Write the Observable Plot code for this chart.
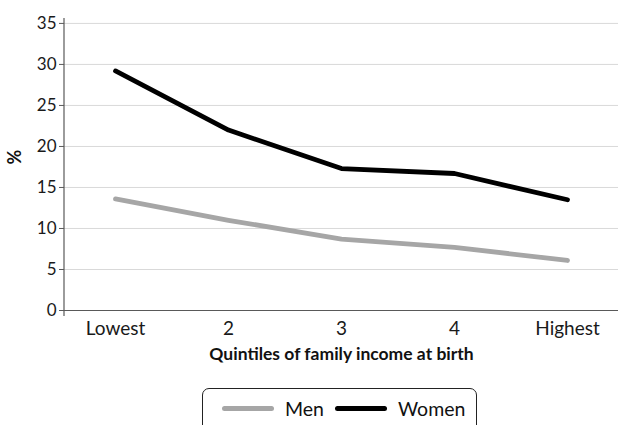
<!DOCTYPE html>
<html><head><meta charset="utf-8">
<script src="https://cdn.jsdelivr.net/npm/d3@7"></script>
<script src="https://cdn.jsdelivr.net/npm/@observablehq/plot@0.6"></script>
<style>
body{margin:0;background:#fff;font-family:Lato,"Open Sans",sans-serif;overflow:hidden;}
#wrap{position:relative;width:618px;height:425px;overflow:hidden;}
#legend{position:absolute;left:202px;top:388px;width:275px;height:60px;border:1.5px solid #222;border-radius:7px;box-sizing:border-box;display:flex;align-items:flex-start;padding-top:7px;padding-left:19px;font-size:19.5px;color:#111;}
.item{display:flex;align-items:center;height:24px;margin-right:11px;}
.sw{display:inline-block;width:52px;height:5px;border-radius:3px;margin-right:11px;}
</style></head><body><div id="wrap"><div id="chart"></div><div id="legend"></div></div>
<script>
const categories = ["Lowest", "2", "3", "4", "Highest"];
const seriesNames = ["Men", "Women"];
const seriesColors = ["#a6a6a6", "#000000"];
const men = [13.6, 11.0, 8.7, 7.7, 6.1];
const women = [29.2, 22.0, 17.3, 16.7, 13.5];
const yTicks = [0, 5, 10, 15, 20, 25, 30, 35];
const xTitle = "Quintiles of family income at birth";
const yTitle = "%";

const seriesValues = [men, women];
const data = seriesNames.flatMap((s, j) => categories.map((c, i) => ({series: s, category: c, value: seriesValues[j][i]})));

const plot = Plot.plot({
  width: 618, height: 370,
  marginLeft: 64, marginRight: 0, marginTop: 18, marginBottom: 60,
  style: {fontFamily: "Lato, 'Open Sans', sans-serif", fontSize: "16px", color: "#1a1a1a", background: "#fff"},
  x: {type: "point", domain: categories, padding: 0.44, label: null},
  y: {domain: [0, 35.6], ticks: yTicks, label: null},
  color: {domain: seriesNames, range: seriesColors},
  marks: [
    Plot.gridY(yTicks.filter(d => d > 0), {stroke: "#d9d9d9", strokeOpacity: 1}),
    Plot.ruleY([0], {stroke: "#595959", strokeWidth: 1.2}),
    Plot.axisY(yTicks, {tickSize: 5, tickPadding: 3, stroke: "#595959", fontSize: 17, label: null}),
    Plot.axisX({tickSize: 0, tickPadding: 11, fontSize: 19, label: null}),
    Plot.lineY(data, {x: "category", y: "value", z: "series", stroke: "series", strokeWidth: 4.8, strokeLinejoin: "round", strokeLinecap: "round"}),
    Plot.text([xTitle], {frameAnchor: "bottom", dy: 49, fontSize: 17.5, fontWeight: "bold", fill: "#111"}),
    Plot.text([yTitle], {frameAnchor: "left", dx: -49, rotate: -90, fontSize: 18, fontWeight: "bold", fill: "#111"})
  ]
});
const yr = plot.scale("y").range;
const xr = plot.scale("x").range;
d3.select(plot).append("line")
  .attr("x1", xr[0]).attr("x2", xr[0])
  .attr("y1", yr[0] + 6).attr("y2", yr[1])
  .attr("stroke", "#595959").attr("stroke-width", 1.2);
document.getElementById("chart").append(plot);

const legend = d3.select("#legend");
seriesNames.forEach((s, i) => {
  const it = legend.append("div").attr("class", "item");
  it.append("span").attr("class", "sw").style("background", seriesColors[i]);
  it.append("span").text(s);
});
</script></body></html>
